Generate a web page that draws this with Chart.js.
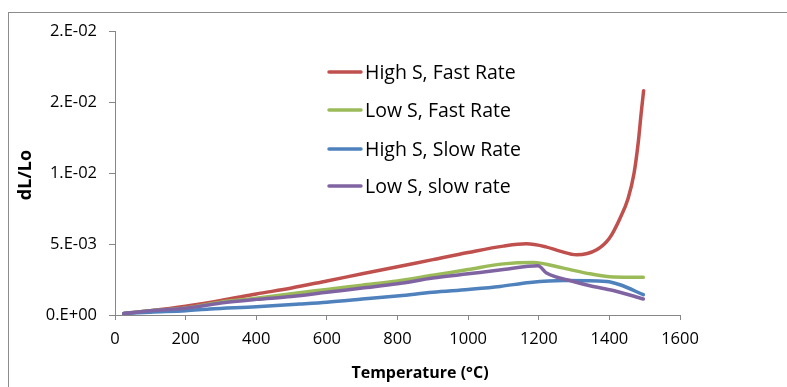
<!DOCTYPE html>
<html>
<head>
<meta charset="utf-8">
<script src="https://cdn.jsdelivr.net/npm/chart.js@4"></script>
<style>
  html, body { margin: 0; padding: 0; background: #ffffff; }
  #wrap { width: 787px; height: 387px; position: relative; }
</style>
</head>
<body>
<div id="wrap"><canvas id="c" width="787" height="387"></canvas></div>
<script>
// ---- data ----
const seriesNames = ['High S, Fast Rate', 'Low S, Fast Rate', 'High S, Slow Rate', 'Low S, slow rate'];
const seriesColors = ['#C0504D', '#9BBB59', '#4F81BD', '#8064A2'];

const highFastT = [25, 100, 200, 300, 400, 500, 600, 700, 800, 900, 1000, 1100, 1165, 1220, 1260, 1307, 1364, 1400, 1430, 1453, 1470, 1482, 1490, 1497];
const highFastV = [0.0001, 0.0003, 0.00062, 0.00102, 0.00148, 0.0019, 0.0024, 0.0029, 0.0034, 0.0039, 0.0044, 0.00485, 0.00501, 0.0048, 0.0045, 0.00424, 0.00459, 0.0054, 0.0068, 0.0082, 0.0100, 0.0122, 0.0142, 0.0158];

const lowFastT = [25, 100, 200, 300, 400, 500, 600, 700, 800, 900, 1000, 1100, 1184, 1270, 1345, 1411, 1496];
const lowFastV = [0.0001, 0.0003, 0.0005, 0.0009, 0.00118, 0.0015, 0.0018, 0.0021, 0.0024, 0.0028, 0.0032, 0.0036, 0.0037, 0.0033, 0.0029, 0.00267, 0.00265];

const highSlowT = [25, 100, 200, 268, 400, 523, 600, 700, 806, 900, 1000, 1090, 1175, 1270, 1392, 1430, 1496];
const highSlowV = [0.0001, 0.0002, 0.0003, 0.00042, 0.00058, 0.00077, 0.0009, 0.00112, 0.00136, 0.0016, 0.0018, 0.00201, 0.00229, 0.00243, 0.00236, 0.00213, 0.00143];

const lowSlowT = [25, 100, 200, 300, 400, 500, 600, 700, 800, 900, 1000, 1100, 1198, 1222, 1298, 1345, 1411, 1496];
const lowSlowV = [0.0001, 0.0003, 0.00048, 0.00085, 0.0011, 0.0013, 0.0016, 0.0019, 0.0022, 0.0026, 0.0029, 0.0032, 0.00347, 0.00295, 0.00236, 0.00206, 0.00173, 0.00113];

const yTickLabels = ['0.E+00', '5.E-03', '1.E-02', '2.E-02', '2.E-02'];
const xTitle = 'Temperature (°C)';
const yTitle = 'dL/Lo';

// ---- build ----
function pts(ts, vs) { return ts.map((t, i) => ({ x: t, y: vs[i] })); }
const allT = [highFastT, lowFastT, highSlowT, lowSlowT];
const allV = [highFastV, lowFastV, highSlowV, lowSlowV];

const datasets = seriesNames.map((n, i) => ({
  label: n,
  data: pts(allT[i], allV[i]),
  borderColor: seriesColors[i],
  backgroundColor: seriesColors[i],
  borderWidth: 3.5,
  pointRadius: 0,
  cubicInterpolationMode: 'monotone',
  fill: false,
  borderCapStyle: 'round'
}));
datasets.forEach((d, i) => { d.order = 4 - i; });

const FONT = '"Open Sans", Lato, "Noto Sans", sans-serif';
const AXIS = '#868686';

const decor = {
  id: 'decor',
  beforeDraw(chart) {
    const ctx = chart.ctx;
    ctx.save();
    ctx.strokeStyle = '#8c8c8c';
    ctx.lineWidth = 1;
    ctx.strokeRect(8.5, 12.5, 900, 500);
    ctx.restore();
  },
  afterDraw(chart) {
    const ctx = chart.ctx;
    ctx.save();
    ctx.fillStyle = '#000';
    ctx.font = 'bold 16px ' + FONT;
    ctx.textAlign = 'center';
    ctx.textBaseline = 'middle';
    ctx.fillText(xTitle, 420, 373);
    ctx.translate(26, 175);
    ctx.rotate(-Math.PI / 2);
    ctx.font = 'bold 18px ' + FONT;
    ctx.fillText(yTitle, 0, 0);
    ctx.restore();
    // legend
    ctx.save();
    ctx.font = '19.5px ' + FONT;
    ctx.textAlign = 'left';
    ctx.textBaseline = 'middle';
    const rows = [72, 110, 149, 186];
    seriesNames.forEach((n, i) => {
      const y = rows[i];
      ctx.strokeStyle = seriesColors[i];
      ctx.lineWidth = 3.5;
      ctx.lineCap = 'round';
      ctx.beginPath();
      ctx.moveTo(329, y);
      ctx.lineTo(361, y);
      ctx.stroke();
      ctx.fillStyle = '#000';
      ctx.fillText(n, 365, y + 1);
    });
    ctx.restore();
  }
};

new Chart(document.getElementById('c'), {
  type: 'line',
  data: { datasets },
  options: {
    responsive: false,
    animation: false,
    devicePixelRatio: 1,
    layout: { padding: { left: 0, right: 107, top: 31, bottom: 0 } },
    plugins: { legend: { display: false }, tooltip: { enabled: false } },
    scales: {
      x: {
        type: 'linear',
        min: 0, max: 1600,
        ticks: { stepSize: 200, font: { family: FONT, size: 16.5 }, color: '#000', padding: 9, maxRotation: 0,
                 callback: (v) => String(v) },
        grid: { display: true, drawOnChartArea: false, drawTicks: true, tickLength: 5, color: AXIS },
        border: { color: AXIS, width: 1 },
        afterFit(s) { s.height = 72; }
      },
      y: {
        type: 'linear',
        min: 0, max: 0.02,
        ticks: {
          stepSize: 0.005,
          font: { family: FONT, size: 16.5 }, color: '#000', padding: 12,
          callback: (v, i) => yTickLabels[i]
        },
        grid: { display: true, drawOnChartArea: false, drawTicks: true, tickLength: 6, color: AXIS },
        border: { color: AXIS, width: 1 },
        afterFit(s) { s.width = 115; }
      }
    }
  },
  plugins: [decor]
});
</script>
</body>
</html>
